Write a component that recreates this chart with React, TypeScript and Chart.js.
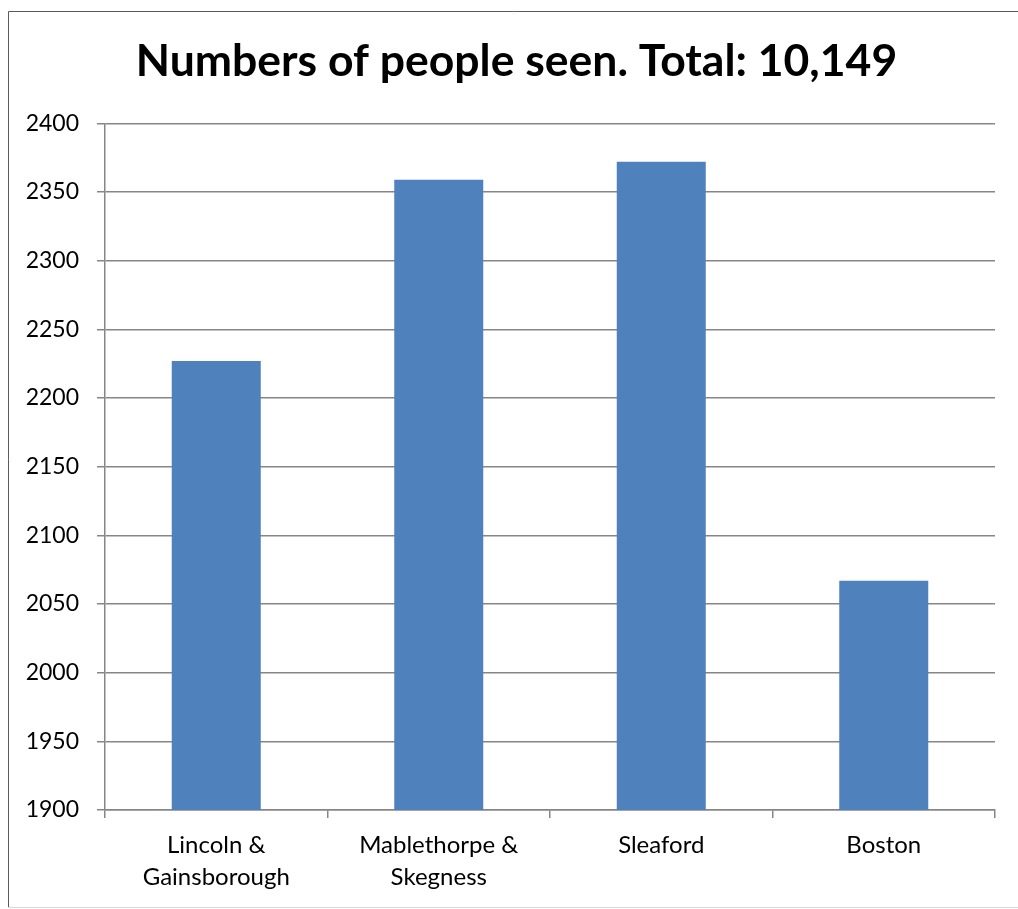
import React, { useEffect, useRef } from "react";
import { Chart, registerables } from "chart.js";

Chart.register(...registerables);

const categories: (string | string[])[] = [
  ["Lincoln &", "Gainsborough"],
  ["Mablethorpe &", "Skegness"],
  "Sleaford",
  "Boston",
];
const peopleSeen: number[] = [2227, 2359, 2372, 2067];
const titleText = "Numbers of people seen. Total: 10,149";
const yMin = 1900;
const yMax = 2400;
const yStep = 50;

const borderPlugin = {
  id: "outerBorder",
  afterLayout(chart: any) {
    // centre the title over the region right of the outer frame, as in the reference
    if (chart.titleBlock) chart.titleBlock.left += 30;
  },
  beforeDraw(chart: any) {
    const ctx = chart.ctx;
    ctx.save();
    ctx.fillStyle = "#ffffff";
    ctx.fillRect(0, 0, chart.width, chart.height);
    ctx.strokeStyle = "#d9d9d9";
    ctx.lineWidth = 1;
    ctx.beginPath();
    ctx.moveTo(8, 907.5);
    ctx.lineTo(chart.width, 907.5);
    ctx.stroke();
    ctx.strokeStyle = "#5a5a5a";
    ctx.beginPath();
    ctx.moveTo(8.5, 907);
    ctx.lineTo(8.5, 11.5);
    ctx.lineTo(chart.width, 11.5);
    ctx.stroke();
    ctx.restore();
  },
};

export default function App() {
  const ref = useRef<HTMLCanvasElement | null>(null);
  useEffect(() => {
    if (!ref.current) return;
    const chart = new Chart(ref.current, {
      type: "bar",
      data: {
        labels: categories,
        datasets: [
          {
            data: peopleSeen,
            backgroundColor: "#4F81BD",
            borderWidth: 0,
            barPercentage: 0.4,
            categoryPercentage: 1,
          },
        ],
      },
      options: {
        animation: false,
        responsive: false,
        layout: { padding: { left: 8, right: 23, top: 11, bottom: 2 } },
        plugins: {
          legend: { display: false },
          tooltip: { enabled: false },
          title: {
            display: true,
            text: titleText,
            color: "#000000",
            font: { family: "Lato", size: 44.5, weight: "bold", lineHeight: 1.2 },
            padding: { top: 24, bottom: 35 },
          },
        },
        scales: {
          x: {
            grid: {
              offset: true,
              drawOnChartArea: false,
              drawTicks: true,
              tickLength: 8,
              color: "#868686",
              lineWidth: 1.5,
            },
            border: { color: "#868686", width: 1.5 },
            ticks: {
              color: "#000000",
              font: { family: "Lato", size: 24, lineHeight: 1.33 },
              padding: 11,
              maxRotation: 0,
              autoSkip: false,
            },
            afterFit(scale: any) {
              scale.height = 97;
            },
          },
          y: {
            min: yMin,
            max: yMax,
            ticks: {
              stepSize: yStep,
              color: "#000000",
              font: { family: "Lato", size: 23 },
              padding: 18,
              callback: (v: any) => String(v),
            },
            grid: {
              color: "#868686",
              lineWidth: 1.5,
              tickLength: 8,
            },
            border: { color: "#868686", width: 1.5 },
            afterFit(scale: any) {
              scale.width = 97;
            },
          },
        },
      },
      plugins: [borderPlugin],
    } as any);
    return () => chart.destroy();
  }, []);
  return (
    <div style={{ position: "absolute", left: 0, top: 0, width: 1018, height: 909 }}>
      <canvas ref={ref} width={1018} height={909} style={{ display: "block" }} />
    </div>
  );
}
